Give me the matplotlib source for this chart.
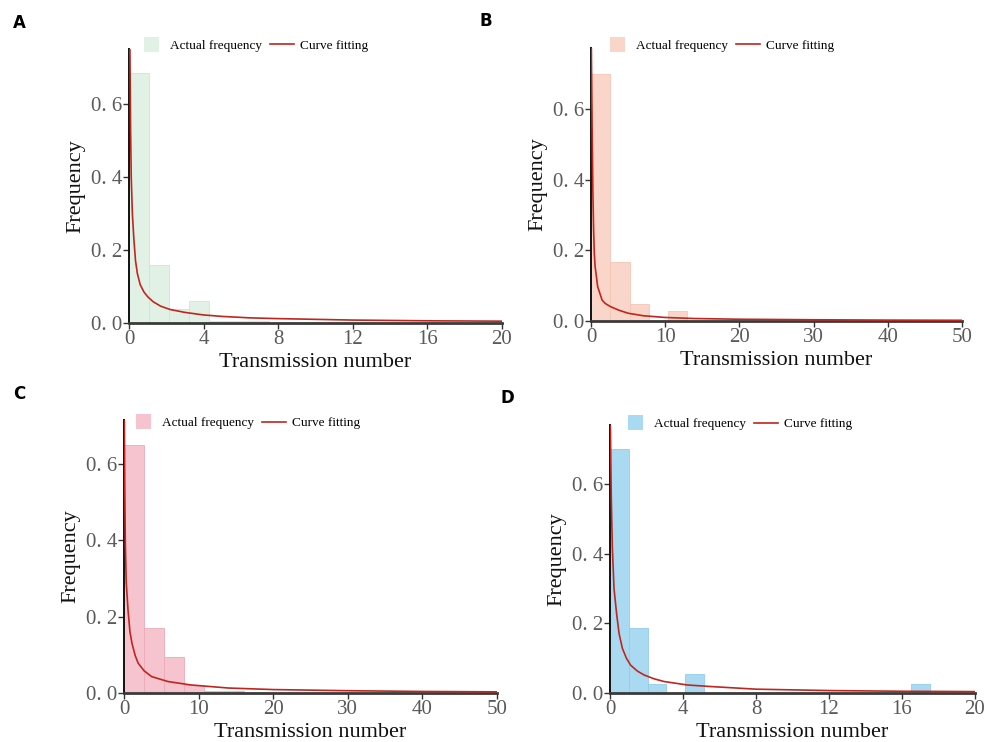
import matplotlib
matplotlib.use("Agg")
import matplotlib.pyplot as plt
from matplotlib.patches import Rectangle
from matplotlib.lines import Line2D
from matplotlib.legend_handler import HandlerPatch
import numpy as np

# ---- data ----
# panel A
a_binw = 1.07
a_freq = [0.685, 0.159, 0.038, 0.061, 0.006, 0.006, 0.006]
a_fit_x = [0.05, 0.08, 0.12, 0.18, 0.26, 0.35, 0.45, 0.6, 0.8, 1.0, 1.3, 1.7,
           2.2, 3.0, 4.0, 5.0, 6.5, 8, 10, 12, 14, 16, 18, 20]
a_fit_y = [0.75, 0.55, 0.40, 0.30, 0.23, 0.17, 0.135, 0.105, 0.085, 0.072, 0.058,
           0.046, 0.037, 0.029, 0.022, 0.018, 0.014, 0.012, 0.010, 0.008, 0.007,
           0.006, 0.0055, 0.005]

# panel B
b_binw = 2.6
b_freq = [0.70, 0.168, 0.048, 0.0, 0.028]
b_fit_x = [0.05, 0.15, 0.25, 0.35, 0.45, 0.55, 0.67, 0.9, 1.2, 1.5, 1.9, 2.6,
           3.7, 5.0, 7.0, 10, 14, 20, 30, 40, 50]
b_fit_y = [0.77, 0.55, 0.37, 0.26, 0.19, 0.155, 0.135, 0.097, 0.078, 0.059, 0.05,
           0.041, 0.031, 0.022, 0.015, 0.010, 0.007, 0.005, 0.0035, 0.0025, 0.002]

# panel C
c_binw = 2.68
c_freq = [0.65, 0.169, 0.093, 0.02, 0.004, 0.004]
c_fit_x = [0.05, 0.1, 0.18, 0.3, 0.54, 0.8, 1.07, 1.5, 1.9, 2.7, 3.7, 5.9, 9.0,
           14, 20, 30, 40, 50]
c_fit_y = [0.715, 0.55, 0.39, 0.29, 0.217, 0.16, 0.13, 0.098, 0.078, 0.058, 0.043,
           0.030, 0.021, 0.013, 0.009, 0.006, 0.004, 0.003]

# panel D
d_binw = 1.03
d_freq = [0.70, 0.188, 0.027, 0.0, 0.054, 0, 0, 0, 0, 0, 0, 0, 0, 0, 0, 0, 0.027]
d_fit_x = [0.02, 0.07, 0.13, 0.22, 0.37, 0.5, 0.68, 0.9, 1.13, 1.5, 1.86, 2.4,
           2.96, 4.24, 5.7, 8, 10, 12, 16, 20]
d_fit_y = [0.77, 0.56, 0.416, 0.3, 0.224, 0.17, 0.128, 0.1, 0.08, 0.063, 0.052,
           0.041, 0.033, 0.023, 0.018, 0.011, 0.009, 0.007, 0.005, 0.004]

y_ticks = [0.0, 0.2, 0.4, 0.6]
y_ticklabels = ["0. 0", "0. 2", "0. 4", "0. 6"]

plt.rcParams['font.family'] = ['Liberation Serif', 'DejaVu Serif']

W, H = 987, 742
fig = plt.figure(figsize=(W / 100, H / 100), dpi=100)
FIT_COLOR = '#c0261e'


def px_axes(left, right, top, bottom):
    # pixel box -> figure fraction
    return fig.add_axes([left / W, 1 - bottom / H, (right - left) / W, (bottom - top) / H])


def square_patch(legend, orig_handle, xdescent, ydescent, width, height, fontsize):
    s = height * 1.6
    return Rectangle((-xdescent + (width - s) / 2, -ydescent - (s - height) / 2), s, s)


def draw_panel(box, binw, freq, fit_x, fit_y, xmax, xticks, ymax, face, edge, leg_xy):
    ax = px_axes(*box)
    lefts = np.arange(len(freq)) * binw
    ax.bar(lefts, freq, width=binw, align='edge', color=face, edgecolor=edge,
           linewidth=0.6, zorder=1)
    ax.plot(fit_x, fit_y, color=FIT_COLOR, lw=1.2, zorder=3)
    ax.set_xlim(0, xmax)
    ax.set_ylim(0, ymax)
    ax.set_xticks(xticks)
    ax.set_xticklabels([str(t) for t in xticks])
    ax.set_yticks(y_ticks)
    ax.set_yticklabels(y_ticklabels)
    for s in ['top', 'right']:
        ax.spines[s].set_visible(False)
    ax.spines['left'].set_color('#111111')
    ax.spines['left'].set_linewidth(1.4)
    ax.spines['bottom'].set_color('#3a3a3a')
    ax.spines['bottom'].set_linewidth(2.0)
    ax.tick_params(axis='both', direction='out', length=4, width=1, color='#333333',
                   labelsize=15, labelcolor='#5a5a5a', pad=1)
    ax.set_xlabel('Transmission number', fontsize=16, color='#111111', labelpad=3)
    ax.set_ylabel('Frequency', fontsize=16, color='#111111', labelpad=4)
    ax.set_facecolor('none')

    handles = [Rectangle((0, 0), 1, 1, facecolor=face, edgecolor='none'),
               Line2D([], [], color=FIT_COLOR, lw=1.2)]
    ax.legend(handles, ['Actual frequency', 'Curve fitting'], loc='center',
              bbox_to_anchor=(leg_xy[0] / W, 1 - leg_xy[1] / H),
              bbox_transform=fig.transFigure, ncol=2, frameon=False, fontsize=9.5,
              handlelength=1.8, handletextpad=0.5, columnspacing=0.6,
              handler_map={Rectangle: HandlerPatch(patch_func=square_patch)})
    return ax


draw_panel((129, 502, 49, 323), a_binw, a_freq, a_fit_x, a_fit_y, 20,
           [0, 4, 8, 12, 16, 20], 0.75, '#e1f1e5', '#cfe6d5', (254, 46))
draw_panel((591, 962, 48, 321), b_binw, b_freq, b_fit_x, b_fit_y, 50,
           [0, 10, 20, 30, 40, 50], 0.773, '#f9d6c9', '#f3c6b6', (720, 46))
draw_panel((124, 497, 420, 693), c_binw, c_freq, c_fit_x, c_fit_y, 50,
           [0, 10, 20, 30, 40, 50], 0.715, '#f6c4cf', '#eeaab9', (246, 423))
draw_panel((610, 975, 425, 693), d_binw, d_freq, d_fit_x, d_fit_y, 20,
           [0, 4, 8, 12, 16, 20], 0.77, '#aad9f2', '#94cdea', (738, 424))

# panel letters
for letter, (x, y) in zip("ABCD", [(19, 23), (486, 21), (19, 394), (507, 398)]):
    fig.text(x / W, 1 - y / H, letter, fontsize=12, fontweight='bold',
             family='DejaVu Sans', ha='center', va='center')

fig.savefig('out.png', dpi=100)
